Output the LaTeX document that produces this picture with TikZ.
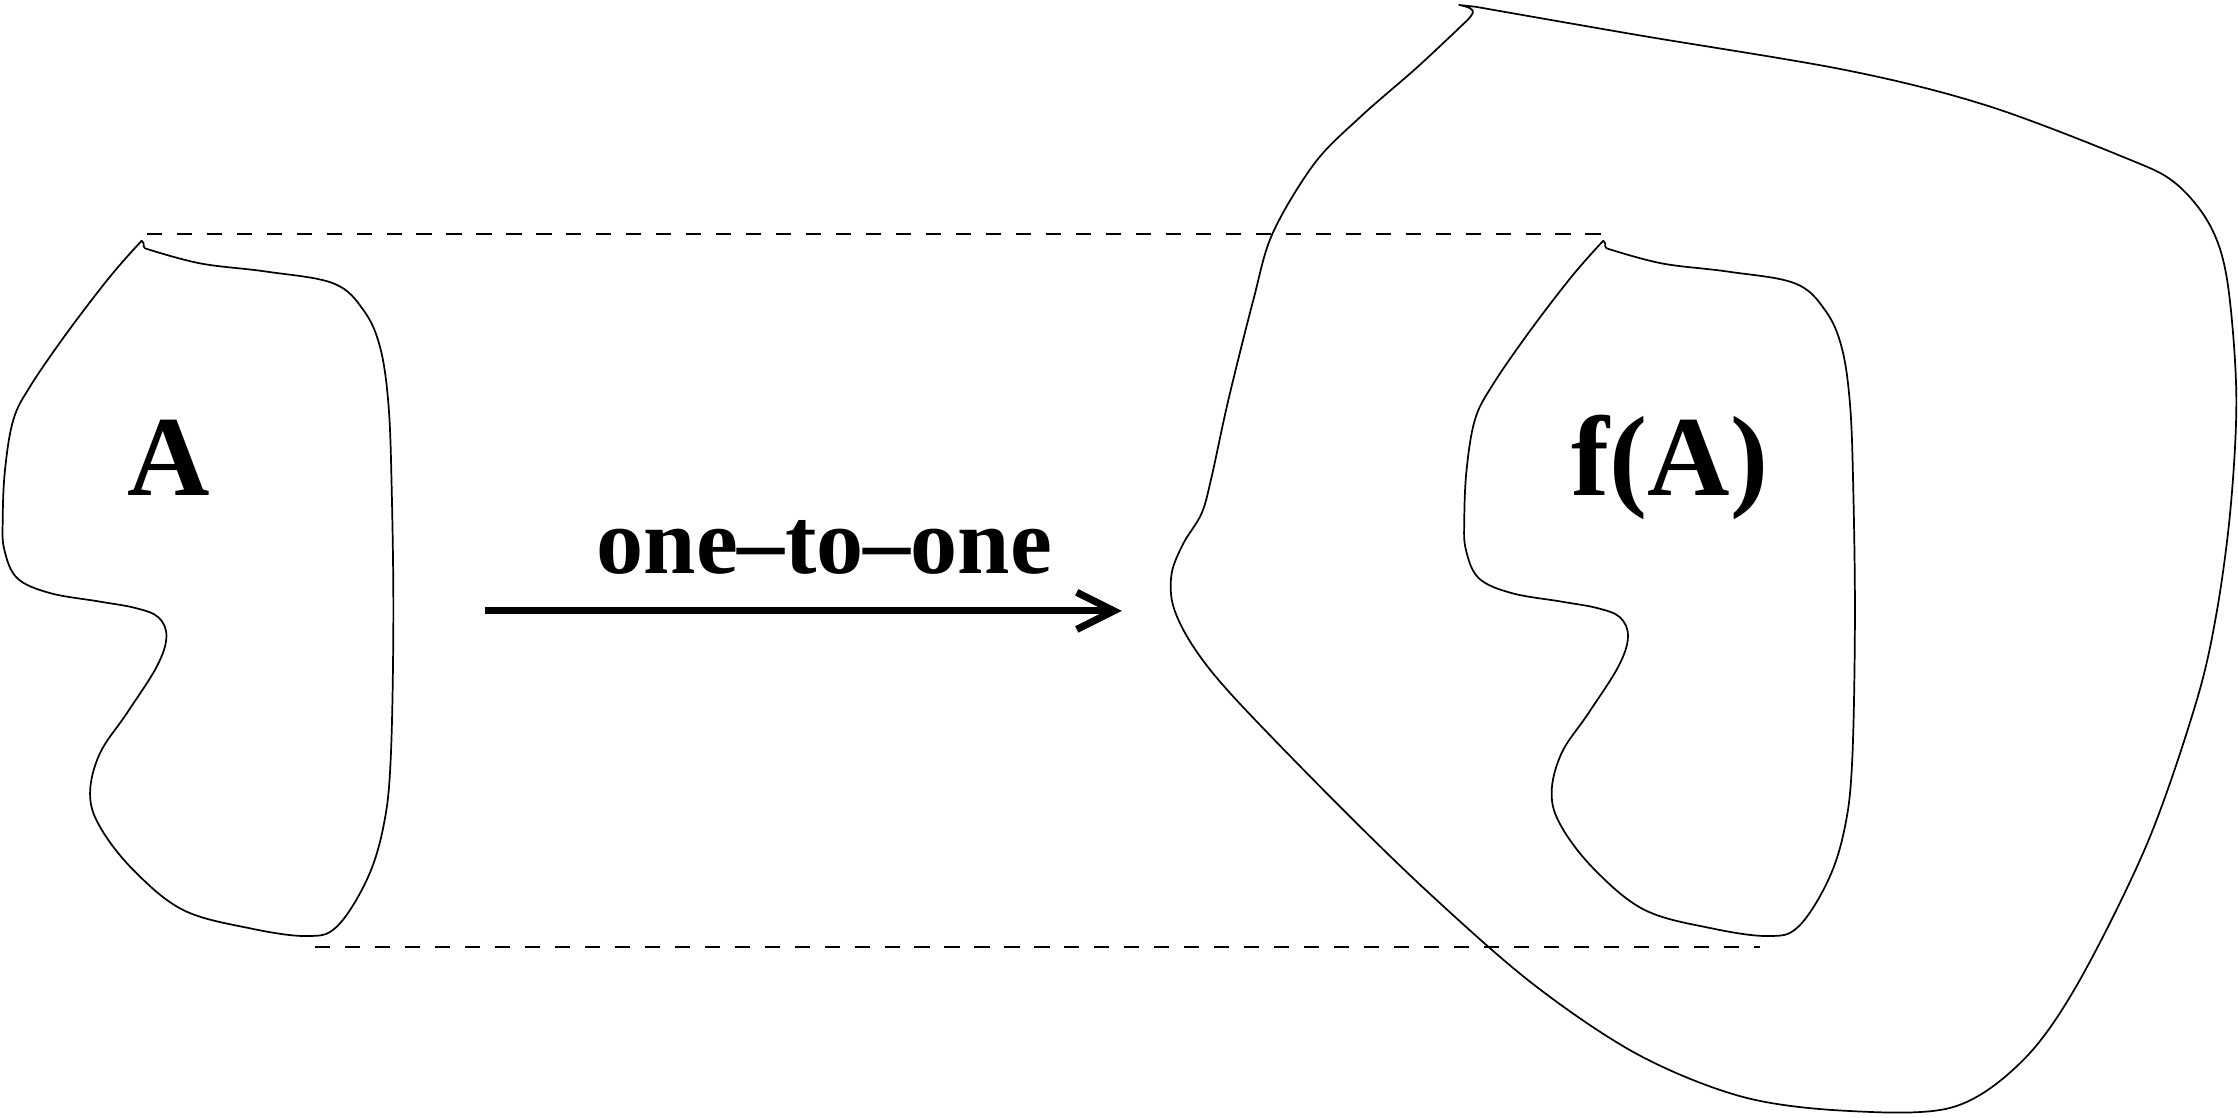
\documentclass[tikz,border=0pt]{standalone}
\usepackage{fontspec}
\setmainfont{Liberation Serif}
\usetikzlibrary{arrows.meta}
\tikzset{
  blob/.style={line width=0.6pt, line join=round},
  guide/.style={line width=0.7pt, dash pattern=on 5.3pt off 5.2pt},
  bigtxt/.style={inner sep=0pt, anchor=base, font=\fontsize{40}{40}\selectfont\bfseries},
  lbltxt/.style={inner sep=0pt, anchor=base, font=\fontsize{33}{33}\selectfont\bfseries},
  maparrow/.style={line width=2.5pt, -{Straight Barb[length=13pt,width=13pt]}}
}
\begin{document}
\begin{tikzpicture}[x=0.5pt,y=-0.5pt]
\useasboundingbox (0,0) rectangle (1568,782.6);
% dashed guides
\coordinate (t1) at (102.8,164);
\coordinate (t2) at (1124,164);
\coordinate (b1) at (220.7,663.7);
\coordinate (b2) at (1233,663.7);
\draw[guide] (t1) -- (t2);
\draw[guide] (b1) -- (b2);
% shape A and its translate f(A)
\foreach \dx in {0,1024}{
\begin{scope}[xshift=\dx*0.5pt]
\draw[blob] plot[smooth, tension=0.6] coordinates {
(101.6,174) (140.1,184.5) (186.8,190.3) (233.5,198.5) (254.6,217.2)
(266.2,242.9) (272.1,282.6) (274.4,341) (275.6,434.4) (273.7,532.5)
(268.6,579.2) (256.9,616.6) (235.9,649.3) (214.9,655.8) (175.2,650.4)
(128.4,637.6) (93.4,609.5) (70,579.2) (63.1,555.8) (70,527.8)
(88.8,499.8) (109.8,467.1) (116.6,446.1) (111,432.5) (95,426) (70,421.5)
(35,415.5) (12,405) (3,385) (1.9,364.3) (3.5,329.3) (9.3,294.3) (21,270.9)
(46.7,233.5) (77.1,193.8) (99.3,168.6)}
-- (100.6,170.5) to[out=-80,in=160] (101.6,174);
\end{scope}}
% outer image set
\draw[blob] plot[smooth, tension=0.55] coordinates {
(1028.2,14) (993.4,46.7) (953.2,81.8) (921,114.4) (891.6,163.5)
(878.1,210.2) (860.6,280.3) (848.9,334) (841.9,359.6) (829.1,380.7)
(820.9,401.7) (822.1,425) (836.1,453.1) (864.1,488.1) (934.2,560.5)
(1001.1,625.6) (1074.4,689.7) (1147.7,738.9)
(1221,768.5) (1294.2,778.3) (1367.5,775.9) (1416.4,743.8) (1455.4,689.7)
(1504.3,591.1) (1538.5,492.6) (1553.1,428.6) (1562.9,354.7) (1566.8,275.9)
(1560.5,197) (1548.2,157.6) (1523.8,128.1) (1489.6,110.8) (1391.9,73.9)
(1294.2,49.3) (1147.7,24.6) (1033.6,4.7)}
-- (1022.3,3.5) .. controls (1028,4.5) and (1033.5,6.5) .. (1031.8,9.3)
.. controls (1031,11) and (1029.5,12.5) .. (1028.2,14);
% labels
\node[bigtxt] (la) at (118,347) {A};
\node[bigtxt] (lfa) at (1170,347) {f(A)};
\node[lbltxt] (lmap) at (577.5,402) {one–to–one};
% arrow
\coordinate (a1) at (340,428);
\coordinate (a2) at (786,428);
\draw[maparrow] (a1) -- (a2);
\end{tikzpicture}
\end{document}
